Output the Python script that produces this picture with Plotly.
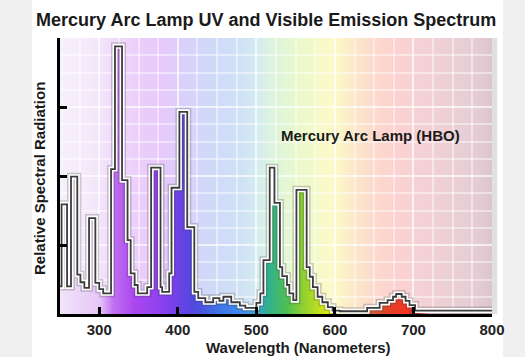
import plotly.graph_objects as go

# ---- data ----
wavelength_nm = [250, 252, 259, 264, 272, 276, 281, 287, 295, 300, 305, 315, 320, 329, 336, 340,
                 345, 349, 361, 366, 378, 380, 389, 392, 402, 412, 421, 426, 435, 445, 453, 458,
                 468, 479, 486, 500, 505, 509, 517, 523, 530, 533, 539, 542, 547, 551, 564, 568,
                 572, 578, 584, 591, 597, 606, 641, 657, 667, 674, 678, 685, 690, 695, 702, 800]
relative_radiation = [0.40, 1.59, 0.40, 1.99, 0.57, 0.46, 0.38, 1.39, 0.45, 0.36, 0.30, 2.10, 3.88, 1.94, 1.07, 0.59,
                      0.42, 0.30, 0.39, 2.12, 0.39, 0.32, 0.59, 1.83, 2.93, 1.26, 0.32, 0.23, 0.17, 0.23, 0.19, 0.25,
                      0.17, 0.12, 0.09, 0.16, 0.30, 0.78, 2.12, 1.61, 0.68, 0.55, 0.42, 0.30, 0.20, 1.80, 0.68, 0.54,
                      0.39, 0.25, 0.17, 0.10, 0.05, 0.04, 0.09, 0.16, 0.20, 0.25, 0.29, 0.25, 0.19, 0.13, 0.05, 0.05]
x_tick_values = [300, 400, 500, 600, 700, 800]
x_tick_labels = ["300", "400", "500", "600", "700", "800"]

title_text = "Mercury Arc Lamp UV and Visible Emission Spectrum"
x_title = "Wavelength (Nanometers)"
y_title = "Relative Spectral Radiation"
series_label = "Mercury Arc Lamp (HBO)"

# ---- styles ----
X_MIN, X_MAX = 250, 800
Y_MIN, Y_MAX = 0, 4
FONT = "Liberation Sans, Arial, sans-serif"

def scale(stops):
    return [[(w - X_MIN) / (X_MAX - X_MIN), c] for w, c in stops]

bg_stops = [(250, "#f7f1fb"), (290, "#f4e9fb"), (320, "#efdafb"), (350, "#eccefb"),
            (380, "#e6c9fb"), (410, "#d9d1fb"), (440, "#d0d9f8"), (480, "#cfe1f6"),
            (500, "#d4ecf0"), (520, "#dcf4dd"), (550, "#e9f8cd"), (580, "#f6fac8"),
            (600, "#fcf9c9"), (620, "#fcebc9"), (650, "#fcd9cd"), (680, "#fcd1d1"),
            (720, "#f1d1d5"), (780, "#e5cdd4"), (800, "#dcc4cc")]
fill_stops = [(250, "#f1e4fa"), (300, "#e6c6f8"), (318, "#c070f0"), (345, "#ac46f0"),
              (380, "#8c40ee"), (400, "#6e42e6"), (420, "#5048e0"), (450, "#4070e6"),
              (485, "#4090ee"), (500, "#40a2d0"), (515, "#30b090"), (540, "#50c050"),
              (560, "#90d030"), (580, "#c0e020"), (600, "#eef000"), (630, "#f0d0a0"),
              (645, "#d06040"), (665, "#e04428"), (690, "#f43424"), (705, "#e02020"),
              (720, "#f0d0d4"), (800, "#dcc4cc")]

fig = go.Figure()

# background gradient (subplot 1, below the grid of subplot 2)
fig.add_trace(go.Scatter(
    x=[X_MIN, X_MAX, X_MAX, X_MIN, X_MIN], y=[Y_MIN, Y_MIN, Y_MAX, Y_MAX, Y_MIN],
    mode="lines", line=dict(width=0), fill="toself",
    fillgradient=dict(type="horizontal", colorscale=scale(bg_stops), start=X_MIN, stop=X_MAX),
    hoverinfo="skip", showlegend=False, xaxis="x", yaxis="y"))

# spectrum fill
fig.add_trace(go.Scatter(
    x=wavelength_nm, y=relative_radiation, mode="lines", line=dict(width=0, shape="hv"),
    fill="tozeroy",
    fillgradient=dict(type="horizontal", colorscale=scale(fill_stops), start=X_MIN, stop=X_MAX),
    hoverinfo="skip", showlegend=False, xaxis="x2", yaxis="y2"))
# outline: shadow, white, dark
for col, w in [("rgba(60,60,60,0.25)", 8), ("#ffffff", 5), ("#3c3c3c", 1.8)]:
    fig.add_trace(go.Scatter(
        x=wavelength_nm, y=relative_radiation, mode="lines",
        line=dict(color=col, width=w, shape="hv"),
        hoverinfo="skip", showlegend=False, xaxis="x2", yaxis="y2"))

grid_col = "rgba(255,255,255,0.45)"
fig.update_layout(
    width=525, height=357,
    margin=dict(l=60, r=33, t=38, b=43),
    paper_bgcolor="#f0f0f0", plot_bgcolor="rgba(0,0,0,0)",
    font=dict(family=FONT, color="#1e1e1e"),
    title=dict(text=title_text, xref="container", yref="container", x=0.507, y=0.944,
               xanchor="center", yanchor="middle",
               font=dict(family=FONT, size=18, weight="bold", color="#1a1a1a")),
    xaxis=dict(range=[X_MIN, X_MAX], visible=False, domain=[0, 1]),
    yaxis=dict(range=[Y_MIN, Y_MAX], visible=False, domain=[0, 1]),
    xaxis2=dict(range=[X_MIN, X_MAX], anchor="y2", domain=[0, 1],
                tickvals=x_tick_values, ticktext=x_tick_labels,
                ticks="inside", ticklen=7, tickwidth=2.5, tickcolor="#000",
                showline=True, linecolor="#000", linewidth=3,
                showgrid=True, gridcolor=grid_col, gridwidth=1.5,
                minor=dict(dtick=25, tick0=0, showgrid=True, gridcolor=grid_col, gridwidth=1.5, ticks=""),
                tickfont=dict(family=FONT, size=15, weight="bold", color="#222"),
                zeroline=False, automargin=False),
    yaxis2=dict(range=[Y_MIN, Y_MAX], anchor="x2", domain=[0, 1],
                tickvals=[1, 2, 3, 4], showticklabels=False,
                ticks="inside", ticklen=7, tickwidth=2.5, tickcolor="#000",
                showline=True, linecolor="#000", linewidth=3,
                showgrid=True, gridcolor=grid_col, gridwidth=1.5,
                minor=dict(dtick=0.25, tick0=0, showgrid=True, gridcolor=grid_col, gridwidth=1.5, ticks=""),
                zeroline=False, automargin=False),
    shapes=[
        dict(type="rect", xref="paper", yref="paper", x0=-0.0648, x1=1.0255, y0=-0.2, y1=1.2,
             fillcolor="#ffffff", line=dict(width=0), layer="below"),
        dict(type="rect", xref="paper", yref="paper", x0=1.0, x1=1.012, y0=0, y1=1,
             fillcolor="rgba(0,0,0,0.12)", line=dict(width=0), layer="below"),
    ],
    annotations=[
        dict(text=series_label, xref="x2", yref="y2", x=645, y=2.59, showarrow=False,
             xanchor="center", yanchor="middle",
             font=dict(family=FONT, size=15, weight="bold", color="#1a1a1a")),
        dict(text=x_title, xref="paper", yref="paper", x=0.552, y=-0.122, showarrow=False,
             xanchor="center", yanchor="middle",
             font=dict(family=FONT, size=15, weight="bold", color="#1a1a1a")),
        dict(text=y_title, xref="paper", yref="paper", x=-0.0486, y=0.489, showarrow=False,
             textangle=-90, xanchor="center", yanchor="middle",
             font=dict(family=FONT, size=15, weight="bold", color="#1a1a1a")),
    ],
)

fig.write_html(
    "out.html",
    config={"displayModeBar": False},
    post_script="document.body.style.margin='0';document.body.style.overflow='hidden';document.body.style.background='#f0f0f0';",
)
